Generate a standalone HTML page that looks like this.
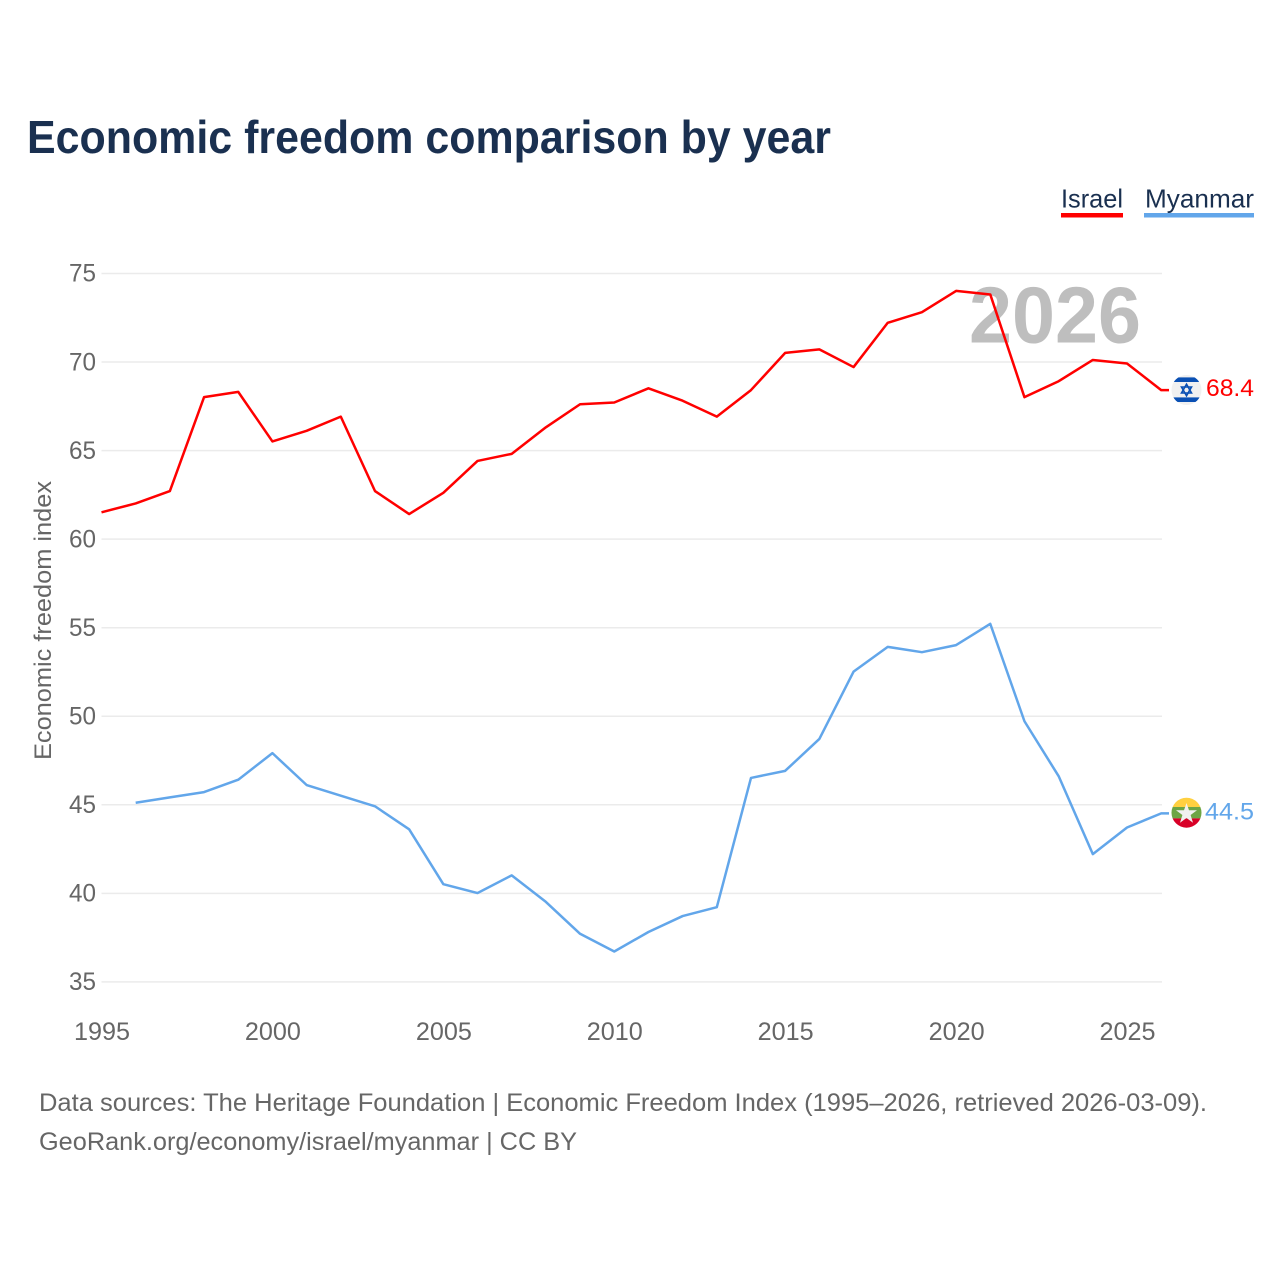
<!DOCTYPE html>
<html lang="en">
<head>
<meta charset="utf-8">
<title>Economic freedom comparison by year</title>
<style>
html,body{margin:0;padding:0;background:#fff;width:1280px;height:1280px;overflow:hidden}
svg{display:block;font-family:"Liberation Sans",sans-serif}
</style>
</head>
<body>
<svg id="chart" width="1280" height="1280" viewBox="0 0 1280 1280" xmlns="http://www.w3.org/2000/svg">
  <defs>
    <clipPath id="clip-il"><circle cx="1186.5" cy="390" r="15"/></clipPath>
    <clipPath id="clip-mm"><circle cx="1186.5" cy="812.7" r="15"/></clipPath>
  </defs>
  <text x="27" y="153" font-size="46" font-weight="700" fill="#1a3050" textLength="804" lengthAdjust="spacingAndGlyphs">Economic freedom comparison by year</text>

  <g>
    <g>
      <text x="1061" y="207.5" font-size="26" fill="#1a3050" textLength="62" lengthAdjust="spacingAndGlyphs">Israel</text>
      <rect x="1061" y="213" width="62" height="4.5" fill="#ff0000"/>
    </g>
    <g>
      <text x="1145" y="207.5" font-size="26" fill="#1a3050" textLength="109" lengthAdjust="spacingAndGlyphs">Myanmar</text>
      <rect x="1144" y="213" width="110" height="4.5" fill="#62a6ea"/>
    </g>
  </g>

  <g id="grid"></g>
  <g id="y-ticks"></g>
  <g id="x-ticks"></g>

  <text transform="translate(51,620.5) rotate(-90)" text-anchor="middle" font-size="24" fill="#666666" textLength="279" lengthAdjust="spacingAndGlyphs">Economic freedom index</text>

  <text x="969" y="342.5" font-size="80" font-weight="700" fill="#bebebe" textLength="172" lengthAdjust="spacingAndGlyphs">2026</text>

  <g id="series"></g>

  <g clip-path="url(#clip-il)">
    <rect x="1171" y="375" width="31" height="30" fill="#f0f0f0"/>
    <rect x="1171" y="377.4" width="31" height="4.6" fill="#0a50b4"/>
    <rect x="1171" y="397.4" width="31" height="4.6" fill="#0a50b4"/>
    <polygon points="1186.5,384.2 1191.5,393 1181.5,393" fill="none" stroke="#0a50b4" stroke-width="1.6"/>
    <polygon points="1186.5,395.8 1191.5,387 1181.5,387" fill="none" stroke="#0a50b4" stroke-width="1.6"/>
  </g>
  <g clip-path="url(#clip-mm)">
    <rect x="1171" y="797" width="31" height="10" fill="#ffd040"/>
    <rect x="1171" y="807" width="31" height="11.4" fill="#6da544"/>
    <rect x="1171" y="818.4" width="31" height="10" fill="#d80027"/>
    <polygon points="1186.5,803 1189,810.2 1197,810.2 1190.6,815 1193,822.8 1186.5,818 1180,822.8 1182.4,815 1176,810.2 1184,810.2" fill="#f0f0f0"/>
  </g>

  <text id="value-israel" x="1206" y="396" font-size="24" fill="#ff0000" textLength="48" lengthAdjust="spacingAndGlyphs"></text>
  <text id="value-myanmar" x="1205" y="819.5" font-size="24" fill="#62a6ea" textLength="49" lengthAdjust="spacingAndGlyphs"></text>

  <g>
    <text x="39" y="1111" font-size="25" fill="#666666" textLength="1168" lengthAdjust="spacingAndGlyphs">Data sources: The Heritage Foundation | Economic Freedom Index (1995–2026, retrieved 2026-03-09).</text>
    <text x="39" y="1150" font-size="25" fill="#666666" textLength="538" lengthAdjust="spacingAndGlyphs">GeoRank.org/economy/israel/myanmar | CC BY</text>
  </g>
</svg>
<script>
const years = [1995,1996,1997,1998,1999,2000,2001,2002,2003,2004,2005,2006,2007,2008,2009,2010,2011,2012,2013,2014,2015,2016,2017,2018,2019,2020,2021,2022,2023,2024,2025,2026];
const israelValues = [61.5,62.0,62.7,68.0,68.3,65.5,66.1,66.9,62.7,61.4,62.6,64.4,64.8,66.3,67.6,67.7,68.5,67.8,66.9,68.4,70.5,70.7,69.7,72.2,72.8,74.0,73.8,68.0,68.9,70.1,69.9,68.4];
const myanmarValues = [null,45.1,45.4,45.7,46.4,47.9,46.1,45.5,44.9,43.6,40.5,40.0,41.0,39.5,37.7,36.7,37.8,38.7,39.2,46.5,46.9,48.7,52.5,53.9,53.6,54.0,55.2,49.7,46.6,42.2,43.7,44.5];
const yTickLabels = [35,40,45,50,55,60,65,70,75];
const xTickLabels = [1995,2000,2005,2010,2015,2020,2025];

const NS = 'http://www.w3.org/2000/svg';
function xScale(year) { return 101.5 + (year - 1995) * (1161.2 - 101.5) / 31; }
function yScale(value) { return 981.6 + (value - 35) * (273.2 - 981.6) / 40; }
function make(tag, attrs, parent) {
  const el = document.createElementNS(NS, tag);
  for (const k in attrs) el.setAttribute(k, attrs[k]);
  parent.appendChild(el);
  return el;
}
const grid = document.getElementById('grid');
const yG = document.getElementById('y-ticks');
const xG = document.getElementById('x-ticks');
const seriesG = document.getElementById('series');

yTickLabels.forEach(function (v) {
  const line = make('line', {x1: 101.5, x2: 1162, y1: yScale(v) + 0.3, y2: yScale(v) + 0.3, stroke: '#ebebeb', 'stroke-width': 1.5}, grid);
  
  
  const t = make('text', {x: 96, y: yScale(v) + 8.5, 'text-anchor': 'end', 'font-size': 25, fill: '#666666', textLength: 27, lengthAdjust: 'spacingAndGlyphs'}, yG);
  
  
  t.textContent = v;
});
xTickLabels.forEach(function (y) {
  const t = make('text', {x: xScale(y) + 0.5, y: 1040, 'text-anchor': 'middle', 'font-size': 25, fill: '#666666', textLength: 56, lengthAdjust: 'spacingAndGlyphs'}, xG);
  
  
  t.textContent = y;
});
function drawLine(values, color, name) {
  const pts = [];
  values.forEach(function (v, i) {
    if (v !== null) pts.push(xScale(years[i]).toFixed(2) + ',' + yScale(v).toFixed(2));
  });
  const lastY = yScale(values[values.length - 1]).toFixed(2);
  pts.push('1169,' + lastY);
  const line = make('polyline', {points: pts.join(' '), fill: 'none', stroke: color, 'stroke-width': 2.5, 'stroke-linejoin': 'round'}, seriesG);
  
  
}
drawLine(myanmarValues, '#62a6ea', 'line-myanmar');
drawLine(israelValues, '#ff0000', 'line-israel');
document.getElementById('value-israel').textContent = israelValues[israelValues.length - 1].toFixed(1);
document.getElementById('value-myanmar').textContent = myanmarValues[myanmarValues.length - 1].toFixed(1);
</script>
</body>
</html>
